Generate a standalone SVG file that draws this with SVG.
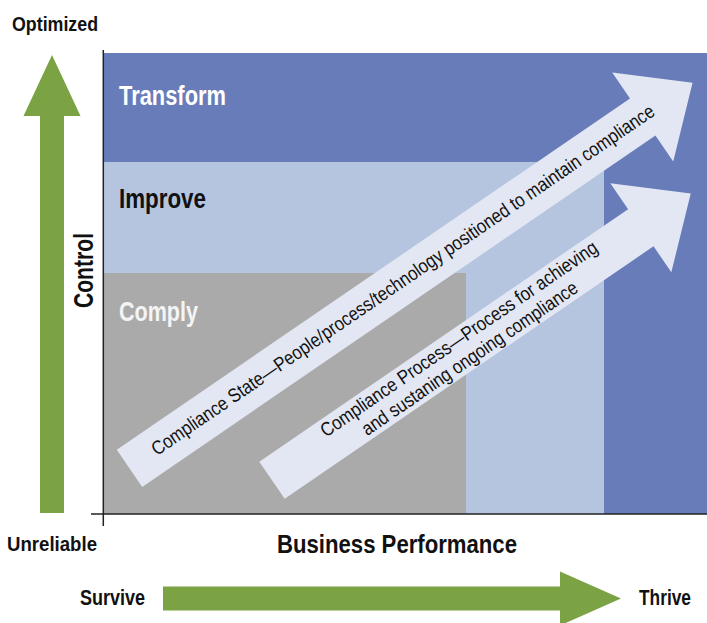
<svg xmlns="http://www.w3.org/2000/svg" width="707" height="623" viewBox="0 0 707 623">
  <defs>
    <style>
      .bold { font-family: "Liberation Sans Narrow", "Liberation Sans", Arial, sans-serif; font-weight: bold; font-stretch: condensed; }
      .reg { font-family: "Liberation Sans Narrow", "Liberation Sans", Arial, sans-serif; font-weight: normal; font-stretch: condensed; font-size: 19.5px; fill: #111; }
      .green { fill: #7ba344; }
      .band-label { font-size: 27px; }
      .axis-label { font-size: 20px; fill: #111; }
      .big-arrow { fill: #e3e7f3; }
      .axis { stroke: #222; stroke-width: 1.5; fill: none; }
    </style>
  </defs>
  <rect width="707" height="623" fill="#ffffff"/>

  <!-- maturity bands -->
  <g id="transform">
    <rect x="104" y="53" width="603" height="461" fill="#677cb9"/>
    <text class="bold band-label" x="119" y="105" fill="#ffffff" textLength="107" lengthAdjust="spacingAndGlyphs">Transform</text>
  </g>
  <g id="improve">
    <rect x="104" y="162" width="500" height="352" fill="#b6c5df"/>
    <text class="bold band-label" x="119" y="208" fill="#111111" textLength="87" lengthAdjust="spacingAndGlyphs">Improve</text>
  </g>
  <g id="comply">
    <rect x="104" y="273" width="362" height="241" fill="#aaaaaa"/>
    <text class="bold band-label" x="119" y="321" fill="#f4f4f4" textLength="79" lengthAdjust="spacingAndGlyphs">Comply</text>
  </g>

  <!-- axes -->
  <g id="axes">
    <line class="axis" x1="103.3" y1="50" x2="103.3" y2="526"/>
    <line class="axis" x1="91" y1="514" x2="707" y2="514"/>
  </g>

  <!-- broad arrows -->
  <g id="compliance-state" transform="translate(129.5,468.35) rotate(-34.4)">
    <polygon class="big-arrow" points="0,-22.5 622,-22.5 622,-54 682.4,0 622,54 622,22.5 0,22.5"/>
    <text class="reg" x="332" y="5.5" text-anchor="middle" textLength="605" lengthAdjust="spacingAndGlyphs">Compliance State—People/process/technology positioned to maintain compliance</text>
  </g>
  <g id="compliance-process" transform="translate(272,480.25) rotate(-34.4)">
    <polygon class="big-arrow" points="0,-22.5 447,-22.5 447,-54 507.5,0 447,54 447,22.5 0,22.5"/>
    <text class="reg" x="234" y="-4.5" text-anchor="middle" textLength="331" lengthAdjust="spacingAndGlyphs">Compliance Process—Process for achieving</text>
    <text class="reg" x="232" y="17.5" text-anchor="middle" textLength="257" lengthAdjust="spacingAndGlyphs">and sustaning ongoing compliance</text>
  </g>

  <!-- control axis -->
  <g id="control-axis">
    <polygon class="green" points="40,513 40,116 23.5,116 52,55 80.5,116 64,116 64,513"/>
    <text class="bold axis-label" x="12" y="30.5" textLength="86" lengthAdjust="spacingAndGlyphs">Optimized</text>
    <text class="bold axis-label" x="7" y="550.5" font-size="21" textLength="90" lengthAdjust="spacingAndGlyphs">Unreliable</text>
    <text class="bold" x="0" y="0" font-size="27" fill="#111" transform="translate(93,270.5) rotate(-90)" text-anchor="middle" textLength="75" lengthAdjust="spacingAndGlyphs">Control</text>
  </g>

  <!-- performance axis -->
  <g id="performance-axis">
    <text class="bold" x="277" y="553.3" font-size="25" fill="#111" textLength="240" lengthAdjust="spacingAndGlyphs">Business Performance</text>
    <polygon class="green" points="163,586.5 560,586.5 560,571.5 621,598.5 560,625.5 560,610.5 163,610.5"/>
    <text class="bold" x="80" y="605" font-size="22" fill="#111" textLength="65" lengthAdjust="spacingAndGlyphs">Survive</text>
    <text class="bold" x="639" y="605" font-size="22" fill="#111" textLength="52" lengthAdjust="spacingAndGlyphs">Thrive</text>
  </g>
</svg>
